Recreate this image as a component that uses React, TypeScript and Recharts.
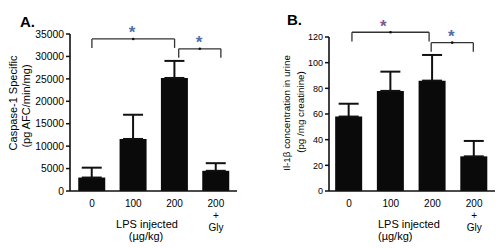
import React from 'react';
import { BarChart, Bar, XAxis, YAxis, ErrorBar, ReferenceLine, ReferenceDot } from 'recharts';

const categories = ['0', '100', '200', '200+Gly'];
const positions = [0, 1, 2, 3];
const caspaseMean = [3000, 11600, 25200, 4500];
const caspaseErr = [2200, 5400, 3800, 1700];
const il1bMean = [58, 78, 86, 27];
const il1bErr = [10, 15, 20, 12];
const caspaseTicks = [0, 5000, 10000, 15000, 20000, 25000, 30000, 35000];
const il1bTicks = [0, 20, 40, 60, 80, 100, 120];

// significance brackets: [xStart, xEnd, yTop, yLeg, starX, starY]
const caspaseBrackets = [
  [0, 2, 33900, 31900, 0.97, 36200],
  [2.1, 3.12, 31700, 29700, 2.59, 33900],
];
const il1bBrackets = [
  [0.07, 1.92, 123.7, 116.4, 0.82, 130.6],
  [1.97, 2.98, 115.6, 108.6, 2.45, 123.2],
];

const FONT = '"Liberation Sans", Arial, sans-serif';

const caspaseData = positions.map((p, i) => ({ pos: p, cat: categories[i], mean: caspaseMean[i], err: [0, caspaseErr[i]] }));
const il1bData = positions.map((p, i) => ({ pos: p, cat: categories[i], mean: il1bMean[i], err: [0, il1bErr[i]] }));

const XTick = (props: any) => {
  const { x, y, payload } = props;
  const idx = Math.round(payload.value);
  const label = categories[idx];
  if (label === undefined) return null;
  const lines = label === '200+Gly' ? ['200', '+', 'Gly'] : [label];
  return (
    <g>
      {lines.map((l, i) => (
        <text key={i} x={x} y={y + 8 + i * 12} textAnchor="middle" fontSize={10} fontFamily={FONT} fill="#000">
          {l}
        </text>
      ))}
    </g>
  );
};

const Star = (color: string) => (props: any) => {
  const { cx, cy } = props;
  return (
    <text x={cx} y={cy + 9} textAnchor="middle" fontSize={17} fontWeight="bold" fontFamily={FONT} fill={color}>
      *
    </text>
  );
};

function renderBrackets(brackets: number[][], colors: string[]) {
  const out: any[] = [];
  brackets.forEach((b, i) => {
    const [x1, x2, yt, yl, sx, sy] = b;
    const common = { stroke: '#333', strokeWidth: 1.3, ifOverflow: 'visible' as const };
    out.push(<ReferenceLine key={`h${i}`} segment={[{ x: x1, y: yt }, { x: x2, y: yt }]} {...common} />);
    out.push(<ReferenceLine key={`l${i}`} segment={[{ x: x1, y: yt }, { x: x1, y: yl }]} {...common} />);
    out.push(<ReferenceLine key={`r${i}`} segment={[{ x: x2, y: yt }, { x: x2, y: yl }]} {...common} />);
    out.push(<ReferenceDot key={`d${i}`} x={(x1 + x2) / 2} y={yt} r={1.3} fill="#111" stroke="none" ifOverflow="visible" />);
    out.push(<ReferenceDot key={`s${i}`} x={sx} y={sy} r={0} ifOverflow="visible" shape={Star(colors[i])} />);
  });
  return out;
}

const YLabel = (lines: string[], cx: number[], cy: number[], fs: number) => () => (
  <g>
    {lines.map((l, i) => (
      <text key={i} x={cx[i]} y={cy[i]} transform={`rotate(-90 ${cx[i]} ${cy[i]})`} textAnchor="middle" dominantBaseline="central" fontSize={fs} fontFamily={FONT} fill="#000">
        {l}
      </text>
    ))}
  </g>
);

const XLabel = (items: { t: string; x: number; y: number; anchor: string }[]) => () => (
  <g>
    {items.map((it, i) => (
      <text key={i} x={it.x} y={it.y} textAnchor={it.anchor as any} fontSize={11} fontFamily={FONT} fill="#000">
        {it.t}
      </text>
    ))}
  </g>
);

export default function App() {
  return (
    <div style={{ position: 'absolute', left: 0, top: 0, width: 500, height: 248, background: '#fff', overflow: 'hidden' }}>
      <div style={{ position: 'absolute', left: 0, top: 0 }}>
        <BarChart width={250} height={248} data={caspaseData} margin={{ top: 34, right: 13, bottom: 0, left: 0 }}>
          <text x={20} y={27} fontSize={15} fontWeight="bold" fontFamily={FONT} fill="#000">A.</text>
          <XAxis
            dataKey="pos"
            type="number"
            domain={[-0.53, 3.51]}
            ticks={positions}
            tick={<XTick />}
            tickLine={false}
            axisLine={{ stroke: '#111', strokeWidth: 1.6 }}
            height={57}
            label={{ content: XLabel([
              { t: 'LPS injected', x: 147, y: 228, anchor: 'middle' },
              { t: '(µg/kg)', x: 146, y: 240, anchor: 'middle' },
            ]) } as any}
          />
          <YAxis
            type="number"
            domain={[0, 35000]}
            ticks={caspaseTicks}
            width={70}
            tickSize={4}
            tick={{ fontSize: 10.3, fontFamily: FONT, fill: '#000' }}
            tickLine={{ stroke: '#111', strokeWidth: 1.5 }}
            axisLine={{ stroke: '#111', strokeWidth: 1.6 }}
            label={{ content: YLabel(['Caspase-1 Specific', '(pg AFC/min/mg)'], [13, 26], [103, 106], 11) } as any}
          />
          <Bar dataKey="mean" fill="#0a0a0a" barSize={27} isAnimationActive={false}>
            <ErrorBar dataKey="err" width={10} stroke="#111" strokeWidth={2} direction="y" />
          </Bar>
          {renderBrackets(caspaseBrackets, ['#4f6fa8', '#4f6fa8'])}
        </BarChart>
      </div>
      <div style={{ position: 'absolute', left: 250, top: 0 }}>
        <BarChart width={250} height={248} data={il1bData} margin={{ top: 37, right: 5, bottom: 0, left: 0 }}>
          <text x={37} y={25} fontSize={15} fontWeight="bold" fontFamily={FONT} fill="#000">B.</text>
          <XAxis
            dataKey="pos"
            type="number"
            domain={[-0.48, 3.5]}
            ticks={positions}
            tick={<XTick />}
            tickLine={false}
            axisLine={{ stroke: '#111', strokeWidth: 1.6 }}
            height={57}
            label={{ content: XLabel([
              { t: 'LPS injected', x: 128, y: 228, anchor: 'start' },
              { t: '(µg/kg)', x: 128, y: 240, anchor: 'start' },
            ]) } as any}
          />
          <YAxis
            type="number"
            domain={[0, 120]}
            ticks={il1bTicks}
            width={79}
            tickSize={4}
            tick={{ fontSize: 9, fontFamily: FONT, fill: '#000' }}
            tickLine={{ stroke: '#111', strokeWidth: 1.5 }}
            axisLine={{ stroke: '#111', strokeWidth: 1.6 }}
            label={{ content: YLabel(['Il-1β concentration in urine', '(pg /mg creatinine)'], [36, 50], [113, 112], 9.8) } as any}
          />
          <Bar dataKey="mean" fill="#0a0a0a" barSize={27} isAnimationActive={false}>
            <ErrorBar dataKey="err" width={10} stroke="#111" strokeWidth={2} direction="y" />
          </Bar>
          {renderBrackets(il1bBrackets, ['#7a5a90', '#4f6fa8'])}
        </BarChart>
      </div>
    </div>
  );
}
